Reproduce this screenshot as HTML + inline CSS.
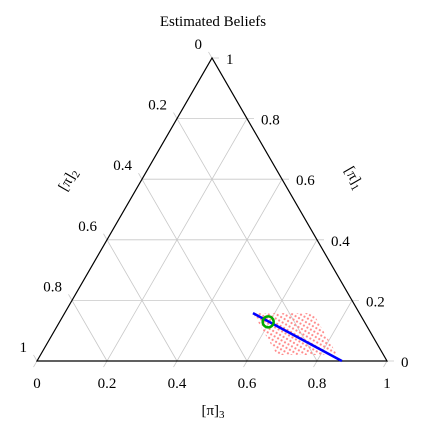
<!DOCTYPE html>
<html><head><meta charset="utf-8"><style>
body{margin:0;background:#fff}
svg text{font-family:"Liberation Serif",serif;font-size:15px;fill:#000}
</style></head><body>
<svg id="c" width="430" height="427" viewBox="0 0 430 427" xmlns="http://www.w3.org/2000/svg">
<defs><pattern id="dots" width="4" height="4" patternUnits="userSpaceOnUse" patternTransform="rotate(30)"><circle cx="2" cy="2" r="1.1" fill="#ff8a8a"/></pattern></defs>
<text x="213" y="26" text-anchor="middle">Estimated Beliefs</text>
<g id="grid"></g>
<g id="marks"></g>
<text x="213" y="415" text-anchor="middle">[π]<tspan font-size="11" dy="3">3</tspan></text>
<text transform="translate(72,182) rotate(-60)" text-anchor="middle">[π]<tspan font-size="11" dy="3">2</tspan></text>
<text transform="translate(350,180) rotate(60)" text-anchor="middle">[π]<tspan font-size="11" dy="3">1</tspan></text>
</svg>
<script>
const ticks=[0,0.2,0.4,0.6,0.8,1];
const tickLabels=["0","0.2","0.4","0.6","0.8","1"];
// belief line endpoints [pi1, pi3]
const linePi1=[0.158,0];
const linePi3=[0.538,0.871];
// estimated point [pi1, pi3]
const pointPi1=[0.129];
const pointPi3=[0.596];
// region: pi1 range and pi2 range
const regionPi1=[0.02,0.158];
const regionPi2=[0.132,0.304];

const X0=37,Y0=361,W=350,H=303;
function px(p1,p3){return X0+W*(p3+p1/2);}
function py(p1){return Y0-H*p1;}
const NS="http://www.w3.org/2000/svg";
function mk(tag,attrs,parent){const e=document.createElementNS(NS,tag);for(const k in attrs)e.setAttribute(k,attrs[k]);parent.appendChild(e);return e;}
const g=document.getElementById('grid'),m=document.getElementById('marks');
const T=7;
ticks.forEach((t,i)=>{
  let a=[px(t,0),py(t)],b=[px(t,1-t),py(t)];
  let l=mk('line',{x1:a[0],y1:a[1],x2:b[0]+T,y2:b[1],stroke:'#c8c8c8','stroke-width':0.8},g);
  
  a=[px(0,t),py(0)];b=[px(1-t,t),py(1-t)];
  l=mk('line',{x1:a[0]-T*0.5,y1:a[1]+T*0.866,x2:b[0],y2:b[1],stroke:'#c8c8c8','stroke-width':0.8},g);
  
  a=[px(0,1-t),py(0)];b=[px(1-t,0),py(1-t)];
  l=mk('line',{x1:a[0],y1:a[1],x2:b[0]-T*0.5,y2:b[1]-T*0.866,stroke:'#c8c8c8','stroke-width':0.8},g);
  
  let tx=mk('text',{x:px(0,t),y:py(0)+27,'text-anchor':'middle'},g);tx.textContent=tickLabels[i];
  
  tx=mk('text',{x:px(t,1-t)+14,y:py(t)+6},g);tx.textContent=tickLabels[i];
  
  tx=mk('text',{x:px(1-t,0)-10,y:py(1-t)-9,'text-anchor':'end'},g);tx.textContent=tickLabels[i];
  
});
const tri=mk('polygon',{points:`${px(0,0)},${py(0)} ${px(0,1)},${py(0)} ${px(1,0)},${py(1)}`,fill:'none',stroke:'#000','stroke-width':1.2},g);

function pt(p1,p2){return px(p1,1-p1-p2)+','+py(p1);}
const reg=mk('polygon',{points:[pt(regionPi1[0],regionPi2[0]),pt(regionPi1[0],regionPi2[1]),pt(regionPi1[1],regionPi2[1]),pt(regionPi1[1],regionPi2[0])].join(' '),fill:'url(#dots)',stroke:'none'},m);

const ln=mk('line',{x1:px(linePi1[0],linePi3[0]),y1:py(linePi1[0]),x2:px(linePi1[1],linePi3[1]),y2:py(linePi1[1]),stroke:'#0000ff','stroke-width':2.5},m);

const c=mk('circle',{cx:px(pointPi1[0],pointPi3[0]),cy:py(pointPi1[0]),r:5.5,fill:'none',stroke:'#00aa00','stroke-width':2.5},m);

</script>
</body></html>
